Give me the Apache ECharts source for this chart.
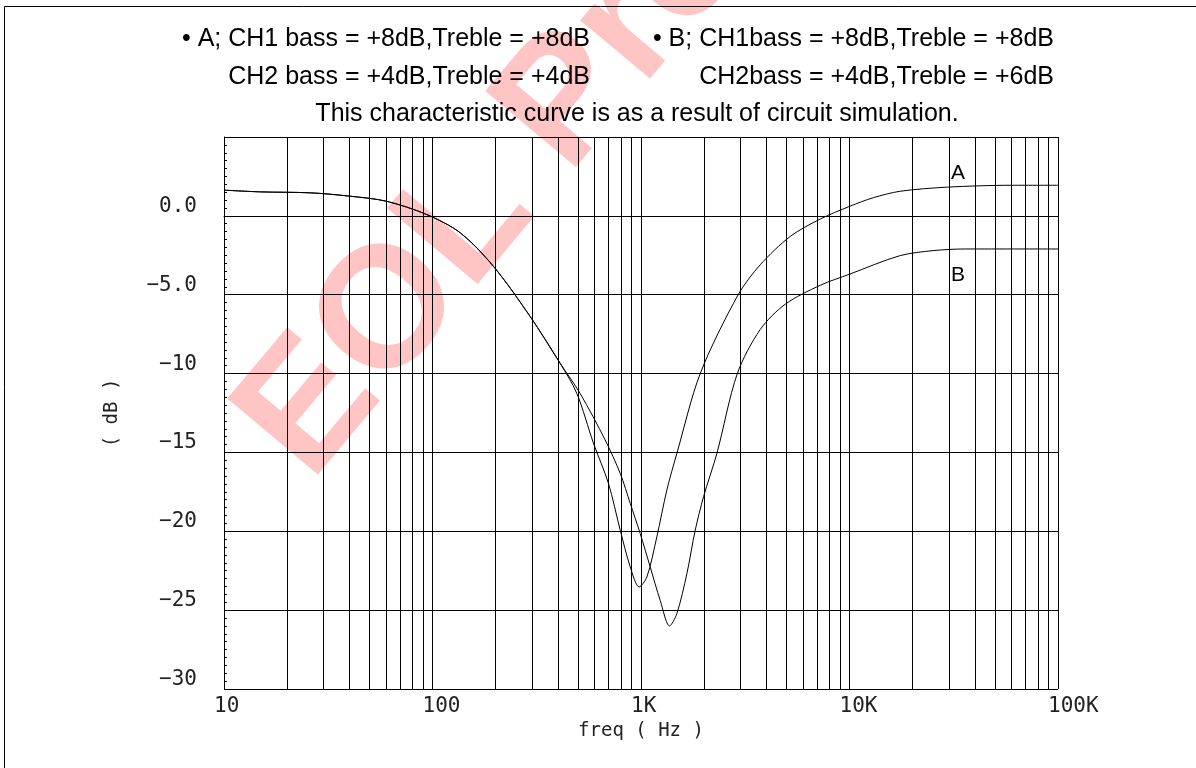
<!DOCTYPE html>
<html>
<head>
<meta charset="utf-8">
<script src="https://cdn.jsdelivr.net/npm/echarts@6/dist/echarts.min.js"></script>
<style>
html,body{margin:0;padding:0;background:#fff;}
#chart{width:1196px;height:768px;}
</style>
</head>
<body>
<div id="chart"></div>
<script>
// ---- data ----
var headerLeft = ['• A; CH1 bass = +8dB,Treble = +8dB', 'CH2 bass = +4dB,Treble = +4dB'];
var headerRight = ['• B; CH1bass = +8dB,Treble = +8dB', 'CH2bass = +4dB,Treble = +6dB'];
var subtitle = 'This characteristic curve is as a result of circuit simulation.';
var xTickLabels = {10: '10', 100: '100', 1000: '1K', 10000: '10K', 100000: '100K'};
var yTickLabels = {'0': '0.0', '-5': '\u22125.0', '-10': '\u221210', '-15': '\u221215', '-20': '\u221220', '-25': '\u221225', '-30': '\u221230', '5': ''};
var gridFreqs = [20,30,40,50,60,70,80,90,200,300,400,500,600,700,800,900,2000,3000,4000,5000,6000,7000,8000,9000,20000,30000,40000,50000,60000,70000,80000,90000];

var freqA = [10, 15, 26, 40, 60, 94, 136, 196, 294, 409, 492, 591, 698, 795, 888, 980, 1067, 1191, 1330, 1486, 1923, 2924, 3733, 5200, 7244, 10000, 13000, 17500, 29400, 60000, 100000];
var dbA   = [1.63, 1.52, 1.46, 1.25, 0.93, 0.08, -1.08, -3.2, -6.38, -9.34, -11.25, -14.4, -16.96, -19.93, -22.26, -23.53, -22.9, -20.36, -17.39, -15.06, -10, -5, -3.1, -1.3, -0.2, 0.6, 1.15, 1.56, 1.82, 1.94, 1.94];

var freqB = [10, 15, 26, 40, 60, 94, 136, 196, 294, 409, 510, 673, 795, 888, 991, 1107, 1236, 1371, 1486, 1660, 1820, 1995, 2312, 2897, 3733, 4920, 7244, 10000, 17500, 25400, 35900, 100000];
var dbB   = [1.63, 1.52, 1.46, 1.25, 0.93, 0.08, -1.08, -3.2, -6.38, -9.34, -11.25, -14.21, -16.33, -18.23, -20.14, -22.26, -24.38, -26.0, -25.22, -22.68, -19.93, -17.81, -15.06, -10, -7.2, -5.6, -4.4, -3.7, -2.52, -2.2, -2.1, -2.1];

var curveLabels = ['A', 'B'];
var watermark = 'EOL Products';

function zip(xs, ys){ return xs.map(function(x,i){ return [x, ys[i]]; }); }

var chart = echarts.init(document.getElementById('chart'), null, {renderer:'canvas'});
var axisFont = '"DejaVu Sans Mono", monospace';
var txtFont = '"Liberation Sans", Arial, sans-serif';

var option = {
  backgroundColor: '#fff',
  animation: false,
  grid: {left: 224, right: 138, top: 137, bottom: 79, containLabel: false},
  xAxis: {
    type: 'log', logBase: 10, min: 10, max: 100000,
    name: 'freq ( Hz )', nameLocation: 'middle', nameGap: 29,
    nameTextStyle: {fontFamily: axisFont, fontSize: 19, color: '#222'},
    axisLine: {show: true, lineStyle: {color: '#000', width: 1}},
    axisTick: {show: false},
    axisLabel: {
      fontFamily: axisFont, fontSize: 21, color: '#222', margin: 7,
      align: 'left', padding: [0, 0, 0, -10],
      formatter: function(v){ return xTickLabels[Math.round(v)] || ''; }
    },
    splitLine: {show: true, lineStyle: {color: '#000', width: 1}}
  },
  yAxis: {
    type: 'value', min: -30, max: 5, interval: 5,
    name: '( dB )', nameLocation: 'middle', nameGap: 102, nameRotate: 90,
    nameTextStyle: {fontFamily: axisFont, fontSize: 19, color: '#222'},
    axisLine: {show: true, lineStyle: {color: '#000', width: 1}},
    axisTick: {show: true, inside: true, length: 4, lineStyle: {color: '#000'}},
    minorTick: {show: true, splitNumber: 10, length: 3, lineStyle: {color: '#000'}},
    axisLabel: {
      fontFamily: axisFont, fontSize: 21, color: '#222', margin: 27,
      verticalAlign: 'bottom', lineHeight: 19,
      formatter: function(v){ var k = String(Math.round(v)); return (k in yTickLabels) ? yTickLabels[k] : ''; }
    },
    splitLine: {show: true, lineStyle: {color: '#000', width: 1}}
  },
  graphic: [
    {type: 'text', z: -10, x: 340, y: 508, rotation: 50 * Math.PI / 180,
     style: {text: watermark, fill: '#ffc4c4', font: 'bold 172px "Liberation Sans", Arial, sans-serif', textAlign: 'left', textVerticalAlign: 'bottom'}},
    {type: 'rect', z: 100, shape: {x: 4.5, y: 6.5, width: 1200, height: 1000}, style: {fill: 'none', stroke: '#000', lineWidth: 1}},
    {type: 'text', z: 100, x: 590, y: 52, style: {text: headerLeft[0], fill: '#000', font: '25px ' + txtFont, textAlign: 'right', textVerticalAlign: 'bottom'}},
    {type: 'text', z: 100, x: 590, y: 90, style: {text: headerLeft[1], fill: '#000', font: '25px ' + txtFont, textAlign: 'right', textVerticalAlign: 'bottom'}},
    {type: 'text', z: 100, x: 1054, y: 52, style: {text: headerRight[0], fill: '#000', font: '25px ' + txtFont, textAlign: 'right', textVerticalAlign: 'bottom'}},
    {type: 'text', z: 100, x: 1054, y: 90, style: {text: headerRight[1], fill: '#000', font: '25px ' + txtFont, textAlign: 'right', textVerticalAlign: 'bottom'}},
    {type: 'text', z: 100, x: 637, y: 127, style: {text: subtitle, fill: '#000', font: '25px ' + txtFont, textAlign: 'center', textVerticalAlign: 'bottom'}},
    {type: 'text', z: 100, x: 951, y: 184, style: {text: curveLabels[0], fill: '#000', font: '21px ' + txtFont, textAlign: 'left', textVerticalAlign: 'bottom'}},
    {type: 'text', z: 100, x: 951, y: 286, style: {text: curveLabels[1], fill: '#000', font: '21px ' + txtFont, textAlign: 'left', textVerticalAlign: 'bottom'}}
  ],
  series: [
    {type: 'line', name: 'A', data: zip(freqA, dbA), smooth: 0.3, showSymbol: false, symbol: 'none',
     lineStyle: {color: '#000', width: 1}, z: 5,
     markLine: {silent: true, symbol: ['none','none'], label: {show: false}, animation: false,
       lineStyle: {color: '#000', width: 1, type: 'solid'},
       data: gridFreqs.map(function(f){ return {xAxis: f}; })}},
    {type: 'line', name: 'B', data: zip(freqB, dbB), smooth: 0.3, showSymbol: false, symbol: 'none',
     lineStyle: {color: '#000', width: 1}, z: 5}
  ]
};
chart.setOption(option);
</script>
</body>
</html>
